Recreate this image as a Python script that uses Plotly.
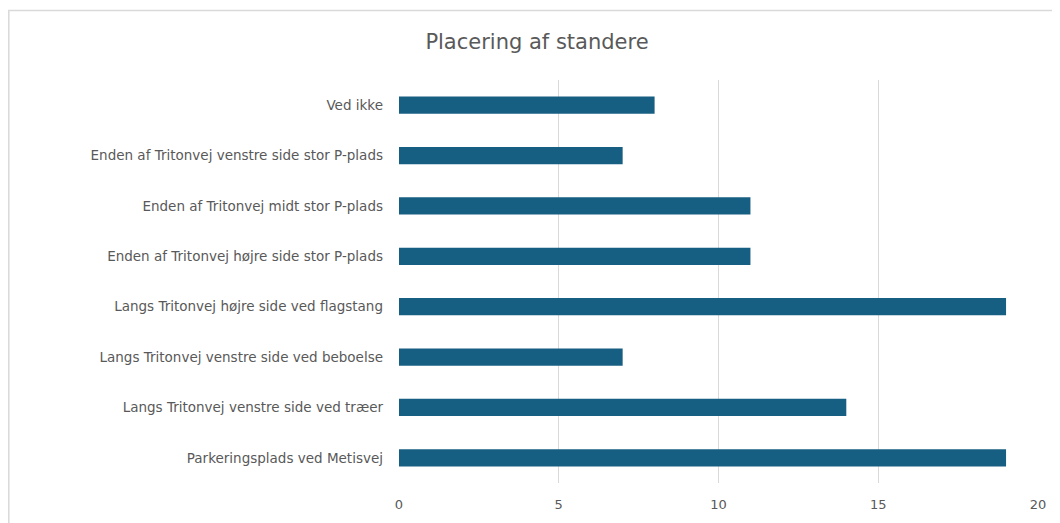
import plotly.graph_objects as go

categories = [
    "Ved ikke",
    "Enden af Tritonvej venstre side stor P-plads",
    "Enden af Tritonvej midt stor P-plads",
    "Enden af Tritonvej højre side stor P-plads",
    "Langs Tritonvej højre side ved flagstang",
    "Langs Tritonvej venstre side ved beboelse",
    "Langs Tritonvej venstre side ved træer",
    "Parkeringsplads ved Metisvej",
]
values = [8, 7, 11, 11, 19, 7, 14, 19]
x_ticks = [0, 5, 10, 15, 20]

# the page body adds an 8px offset; work in reference-page pixels
OFF = 8
W, H = 1060 - OFF, 523 - OFF
L = 399 - OFF
T = 80 - OFF
PR = 1038 - OFF
PB = 483 - OFF
R, B = W - PR, H - PB
pw, ph = PR - L, PB - T

def px_x(p):
    return (p - OFF - L) / pw

def px_y(p):
    return (PB - (p - OFF)) / ph

FONT = "DejaVu Sans"

fig = go.Figure(go.Bar(
    x=values,
    y=categories,
    orientation="h",
    marker=dict(color="#175f82", line=dict(width=0)),
))

fig.update_layout(
    width=W, height=H,
    margin=dict(l=L, r=R, t=T, b=B),
    paper_bgcolor="white",
    plot_bgcolor="white",
    bargap=0.66,
    showlegend=False,
    font=dict(family=FONT, color="#595959", size=13),
    title=dict(
        text="Placering af standere",
        x=(537 - OFF) / W, xanchor="center",
        y=1 - (42 - OFF) / H, yanchor="middle",
        font=dict(size=21, color="#595959", family=FONT),
    ),
    xaxis=dict(
        range=[0, 20],
        tickvals=x_ticks,
        showgrid=True, gridcolor="#d9d9d9", gridwidth=1,
        zeroline=False, showline=False,
        ticks="", ticklen=0,
        ticklabelstandoff=12,
        tickfont=dict(size=13, color="#595959"),
        fixedrange=True,
    ),
    yaxis=dict(
        categoryorder="array",
        categoryarray=list(reversed(categories)),
        showgrid=False, zeroline=False, showline=False,
        ticks="", ticklen=0,
        ticklabelstandoff=15,
        tickfont=dict(size=13.5, color="#595959"),
        fixedrange=True,
    ),
    shapes=[dict(
        type="rect", xref="paper", yref="paper",
        x0=px_x(OFF + 0.8), x1=px_x(1080), y0=px_y(560), y1=px_y(10.5),
        line=dict(color="#d9d9d9", width=1.5), fillcolor="rgba(0,0,0,0)",
        layer="below",
    )],
)

fig.write_html("out.html")
